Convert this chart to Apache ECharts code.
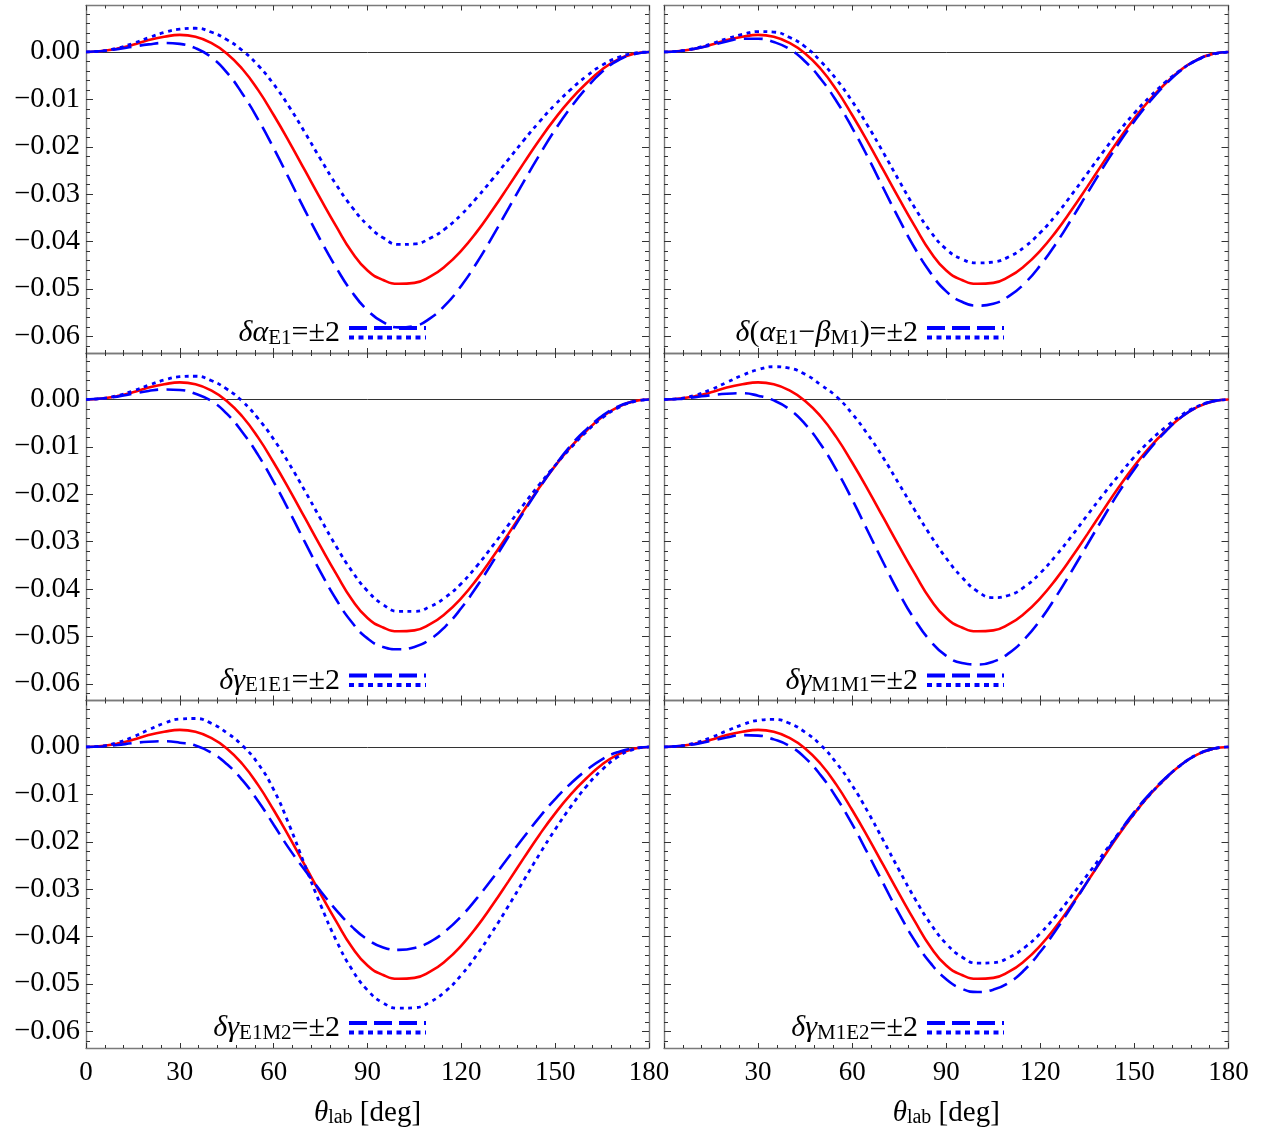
<!DOCTYPE html>
<html><head><meta charset="utf-8">
<script src="https://cdn.jsdelivr.net/npm/echarts@6/dist/echarts.min.js"></script>
<style>html,body{margin:0;padding:0;background:#fff}#c{width:1267px;height:1136px}</style>
</head><body><div id="c"></div>
<script>
// ---- data (theta in degrees) ----
const theta = [0,5,10,15,20,25,30,35,40,45,50,55,60,65,70,75,80,85,90,95,100,105,110,115,120,125,130,135,140,145,150,155,160,165,170,175,180];
const central = [0,0.0002,0.0007,0.0015,0.0025,0.0032,0.0036,0.0032,0.0019,-0.0003,-0.0036,-0.0080,-0.0133,-0.0190,-0.0250,-0.0310,-0.0368,-0.0422,-0.0461,-0.0481,-0.0489,-0.0487,-0.0474,-0.0451,-0.0419,-0.0379,-0.0333,-0.0284,-0.0234,-0.0185,-0.0140,-0.0100,-0.0066,-0.0037,-0.0016,-0.0004,0];
// panel 1: delta alpha_E1
const aE1Dash = [0,0.0002,0.0006,0.0011,0.0016,0.0019,0.0017,0.0008,-0.0011,-0.0043,-0.0088,-0.0142,-0.0203,-0.0268,-0.0334,-0.0397,-0.0455,-0.0506,-0.0545,-0.0570,-0.0581,-0.0578,-0.0562,-0.0533,-0.0493,-0.0444,-0.0389,-0.0331,-0.0273,-0.0217,-0.0164,-0.0117,-0.0076,-0.0042,-0.0018,-0.0005,0];
const aE1Dot = [0,0.0002,0.0008,0.0018,0.0030,0.0041,0.0048,0.0050,0.0042,0.0026,0.0003,-0.0028,-0.0068,-0.0116,-0.0170,-0.0226,-0.0280,-0.0327,-0.0365,-0.0392,-0.0406,-0.0405,-0.0393,-0.0372,-0.0343,-0.0307,-0.0268,-0.0227,-0.0186,-0.0147,-0.0111,-0.0079,-0.0051,-0.0028,-0.0012,-0.0003,0];
// panel 2: delta(alpha_E1 - beta_M1)
const abDash = [0,0.0002,0.0007,0.0014,0.0022,0.0028,0.0028,0.0021,0.0006,-0.0020,-0.0057,-0.0104,-0.0160,-0.0222,-0.0288,-0.0353,-0.0414,-0.0466,-0.0505,-0.0527,-0.0535,-0.0531,-0.0515,-0.0488,-0.0450,-0.0404,-0.0352,-0.0298,-0.0244,-0.0193,-0.0146,-0.0104,-0.0068,-0.0038,-0.0017,-0.0004,0];
const abDot = [0,0.0002,0.0008,0.0017,0.0028,0.0037,0.0043,0.0042,0.0031,0.0011,-0.0020,-0.0058,-0.0104,-0.0156,-0.0213,-0.0272,-0.0329,-0.0379,-0.0416,-0.0437,-0.0445,-0.0443,-0.0432,-0.0411,-0.0381,-0.0344,-0.0301,-0.0256,-0.0211,-0.0168,-0.0129,-0.0094,-0.0063,-0.0037,-0.0017,-0.0005,0];
// panel 3: delta gamma_E1E1
const gE1E1Dash = [0,0.0002,0.0006,0.0012,0.0018,0.0021,0.0020,0.0012,-0.0003,-0.0030,-0.0069,-0.0117,-0.0174,-0.0236,-0.0301,-0.0364,-0.0422,-0.0470,-0.0504,-0.0522,-0.0527,-0.0522,-0.0506,-0.0478,-0.0440,-0.0394,-0.0343,-0.0290,-0.0237,-0.0186,-0.0139,-0.0097,-0.0063,-0.0035,-0.0015,-0.0004,0];
const gE1E1Dot = [0,0.0002,0.0008,0.0018,0.0030,0.0041,0.0048,0.0049,0.0040,0.0022,-0.0004,-0.0040,-0.0084,-0.0136,-0.0193,-0.0252,-0.0310,-0.0362,-0.0404,-0.0433,-0.0447,-0.0447,-0.0437,-0.0417,-0.0388,-0.0351,-0.0309,-0.0265,-0.0221,-0.0179,-0.0139,-0.0102,-0.0068,-0.0039,-0.0018,-0.0005,0];
// panel 4: delta gamma_M1M1
const gM1M1Dash = [0,0.0001,0.0005,0.0009,0.0012,0.0013,0.0008,-0.0002,-0.0021,-0.0052,-0.0095,-0.0149,-0.0211,-0.0278,-0.0345,-0.0409,-0.0465,-0.0510,-0.0541,-0.0556,-0.0559,-0.0553,-0.0535,-0.0505,-0.0465,-0.0416,-0.0362,-0.0306,-0.0250,-0.0196,-0.0147,-0.0104,-0.0067,-0.0037,-0.0016,-0.0004,0];
const gM1M1Dot = [0,0.0002,0.0009,0.0021,0.0036,0.0051,0.0063,0.0069,0.0066,0.0053,0.0031,0.0006,-0.0030,-0.0074,-0.0124,-0.0179,-0.0234,-0.0287,-0.0335,-0.0375,-0.0405,-0.0418,-0.0413,-0.0395,-0.0366,-0.0329,-0.0288,-0.0244,-0.0201,-0.0160,-0.0121,-0.0087,-0.0058,-0.0033,-0.0015,-0.0004,0];
// panel 5: delta gamma_E1M2
const gE1M2Dash = [0,0.0001,0.0004,0.0008,0.0011,0.0012,0.0009,0.0003,-0.0012,-0.0036,-0.0070,-0.0114,-0.0164,-0.0215,-0.0260,-0.0304,-0.0344,-0.0379,-0.0406,-0.0423,-0.0428,-0.0424,-0.0411,-0.0388,-0.0357,-0.0319,-0.0277,-0.0233,-0.0190,-0.0148,-0.0110,-0.0077,-0.0049,-0.0026,-0.0011,-0.0003,0];
const gE1M2Dot = [0,0.0002,0.0009,0.0021,0.0036,0.0050,0.0059,0.0060,0.0050,0.0030,0.0003,-0.0035,-0.0090,-0.0165,-0.0250,-0.0333,-0.0408,-0.0469,-0.0513,-0.0540,-0.0551,-0.0550,-0.0538,-0.0515,-0.0481,-0.0438,-0.0389,-0.0336,-0.0281,-0.0226,-0.0174,-0.0126,-0.0083,-0.0048,-0.0021,-0.0005,0];
// panel 6: delta gamma_M1E2
const gM1E2Dash = [0,0.0002,0.0006,0.0013,0.0020,0.0025,0.0024,0.0016,0.0002,-0.0023,-0.0060,-0.0107,-0.0163,-0.0225,-0.0289,-0.0352,-0.0409,-0.0456,-0.0490,-0.0510,-0.0517,-0.0512,-0.0497,-0.0470,-0.0432,-0.0386,-0.0336,-0.0284,-0.0232,-0.0182,-0.0137,-0.0098,-0.0065,-0.0037,-0.0016,-0.0004,0];
const gM1E2Dot = [0,0.0002,0.0009,0.0020,0.0034,0.0047,0.0056,0.0058,0.0050,0.0031,0.0004,-0.0034,-0.0081,-0.0137,-0.0198,-0.0260,-0.0320,-0.0373,-0.0415,-0.0443,-0.0456,-0.0455,-0.0444,-0.0423,-0.0393,-0.0356,-0.0314,-0.0270,-0.0226,-0.0182,-0.0140,-0.0100,-0.0066,-0.0037,-0.0016,-0.0004,0];

const yTicks = [-0.06,-0.05,-0.04,-0.03,-0.02,-0.01,0];
const yMinorTicks = [-0.062,-0.058,-0.056,-0.054,-0.052,-0.048,-0.046,-0.044,-0.042,-0.038,-0.036,-0.034,-0.032,-0.028,-0.026,-0.024,-0.022,-0.018,-0.016,-0.014,-0.012,-0.008,-0.006,-0.004,-0.002,0.002,0.004,0.006,0.008];
const xTickStep = 30;
const legendTexts = [
  '{g|δα}{s|E1}{n|=±2}',
  '{g|δ}{n|(}{g|α}{s|E1}{n|−}{g|β}{s|M1}{n|)=±2}',
  '{g|δγ}{s|E1E1}{n|=±2}',
  '{g|δγ}{s|M1M1}{n|=±2}',
  '{g|δγ}{s|E1M2}{n|=±2}',
  '{g|δγ}{s|M1E2}{n|=±2}'
];
const panels = [
  [aE1Dash, aE1Dot], [abDash, abDot],
  [gE1E1Dash, gE1E1Dot], [gM1M1Dash, gM1M1Dot],
  [gE1M2Dash, gE1M2Dot], [gM1E2Dash, gM1E2Dot]
];

// ---- layout / style ----
const FONT = 'Liberation Serif';
const yMin = -0.0635, yMax = 0.0098;
const tops = [5.5, 353, 700.5];
const H = 347.5;
const lefts = [86, 664];
const widths = [563, 564.5];
const frameC = '#7a7a7a', tickC = '#333';
const rich = {
  g: {fontFamily: FONT, fontSize: 30, fontStyle: 'italic', color: '#000', lineHeight: 34, verticalAlign: 'bottom'},
  n: {fontFamily: FONT, fontSize: 30, color: '#000', lineHeight: 34, verticalAlign: 'bottom'},
  s: {fontFamily: FONT, fontSize: 21, color: '#000', lineHeight: 17, verticalAlign: 'bottom'}
};
const pair = arr => theta.map((t, i) => [t, arr[i]]);
const fmtY = v => (v < 0 ? '−' : '') + Math.abs(v).toFixed(2);

const grid = [], xAxis = [], yAxis = [], series = [], graphic = [];
for (let p = 0; p < 6; p++) {
  const r = Math.floor(p / 2), c = p % 2;
  grid.push({left: lefts[c], top: tops[r], width: widths[c], height: H});
  const xBase = {
    gridIndex: p, type: 'value', min: 0, max: 180, interval: xTickStep,
    axisLine: {show: true, onZero: false, lineStyle: {color: frameC, width: 1.4}},
    axisTick: {show: true, inside: true, length: 5, lineStyle: {color: tickC, width: 1}},
    minorTick: {show: true, splitNumber: 5, length: 3, lineStyle: {color: tickC, width: 1}},
    splitLine: {show: false}, minorSplitLine: {show: false}
  };
  xAxis.push(Object.assign({}, xBase, {
    position: 'bottom',
    axisLabel: {show: r === 2, fontFamily: FONT, fontSize: 27, color: '#000', margin: 11,
      showMinLabel: c === 0},
    name: r === 2 ? '{t|θ}{s|lab}{n| [deg]}' : '',
    nameLocation: 'middle', nameGap: 47,
    nameTextStyle: {rich: {
      t: {fontFamily: FONT, fontSize: 29, fontStyle: 'italic', color: '#000', lineHeight: 33, verticalAlign: 'bottom'},
      n: {fontFamily: FONT, fontSize: 29, color: '#000', lineHeight: 33, verticalAlign: 'bottom'},
      s: {fontFamily: FONT, fontSize: 20, color: '#000', lineHeight: 17, verticalAlign: 'bottom'}
    }}
  }));
  xAxis.push(Object.assign({}, xBase, {position: 'top', axisLabel: {show: false}}));
  const yMajor = side => ({
    gridIndex: p, type: 'value', min: yMin, max: yMax, position: side,
    axisLine: {show: true, onZero: false, lineStyle: {color: frameC, width: 1.4}},
    axisTick: {show: true, inside: true, length: 7, customValues: yTicks, lineStyle: {color: tickC, width: 1}},
    axisLabel: {show: side === 'left' && c === 0, customValues: yTicks, formatter: fmtY,
      fontFamily: FONT, fontSize: 28.5, color: '#000', margin: 6},
    splitLine: {show: false}
  });
  const yMinor = side => ({
    gridIndex: p, type: 'value', min: yMin, max: yMax, position: side,
    axisLine: {show: false, onZero: false},
    axisTick: {show: true, inside: true, length: 4, customValues: yMinorTicks, lineStyle: {color: tickC, width: 1}},
    axisLabel: {show: false},
    splitLine: {show: false}
  });
  yAxis.push(yMajor('left'), yMajor('right'), yMinor('left'), yMinor('right'));
  const xi = 2 * p, yi = 4 * p;
  series.push({
    type: 'line', xAxisIndex: xi, yAxisIndex: yi, data: pair(central), showSymbol: false,
    smooth: 0.5, lineStyle: {color: '#ff0000', width: 2.6}, z: 3, silent: true,
    markLine: {silent: true, symbol: 'none', label: {show: false},
      lineStyle: {color: '#333', width: 1, type: 'solid'}, data: [{yAxis: 0}], z: 1}
  });
  series.push({
    type: 'line', xAxisIndex: xi, yAxisIndex: yi, data: pair(panels[p][0]), showSymbol: false,
    smooth: 0.5, lineStyle: {color: '#0000ff', width: 2.6, type: [19, 8]}, z: 4, silent: true
  });
  series.push({
    type: 'line', xAxisIndex: xi, yAxisIndex: yi, data: pair(panels[p][1]), showSymbol: false,
    smooth: 0.5, lineStyle: {color: '#0000ff', width: 2.8, type: [4, 4.5]}, z: 5, silent: true
  });
  const gx = lefts[c], gy = tops[r];
  graphic.push({type: 'text', x: gx + 254, y: gy + 326, z: 10,
    style: {text: legendTexts[p], rich: rich, align: 'right', verticalAlign: 'middle'}});
  graphic.push({type: 'line', z: 10, shape: {x1: gx + 263, y1: gy + 322.5, x2: gx + 340, y2: gy + 322.5},
    style: {stroke: '#0000ff', lineWidth: 4, lineDash: [18, 7]}});
  graphic.push({type: 'line', z: 10, shape: {x1: gx + 263, y1: gy + 332, x2: gx + 340, y2: gy + 332},
    style: {stroke: '#0000ff', lineWidth: 4, lineDash: [5, 4.5]}});
}

const chart = echarts.init(document.getElementById('c'), null, {renderer: 'canvas'});
chart.setOption({animation: false, backgroundColor: '#fff', grid, xAxis, yAxis, series, graphic});
</script>
</body></html>
